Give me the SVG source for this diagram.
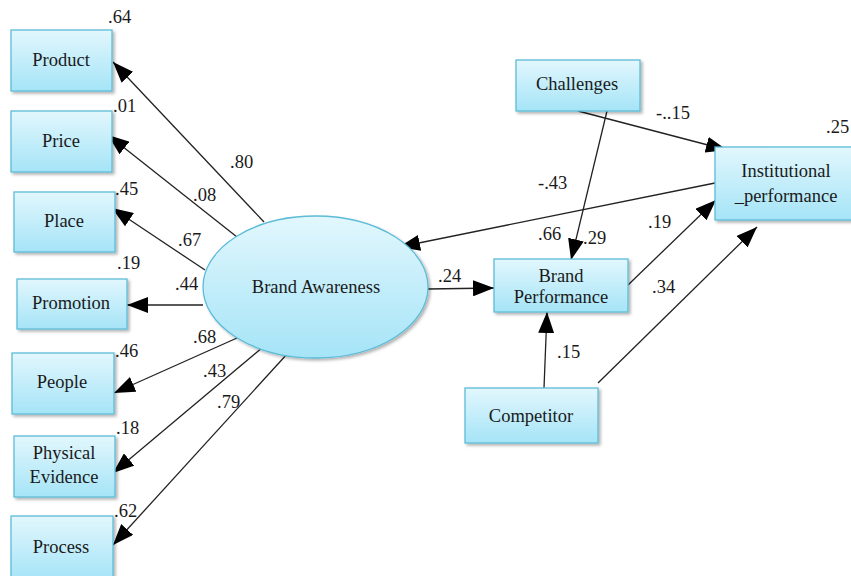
<svg xmlns="http://www.w3.org/2000/svg" width="851" height="576" viewBox="0 0 851 576">
<style>
.box{fill:url(#g);stroke:#5cbcd8;stroke-width:1.3;filter:url(#sh)}
.t{font-family:"Liberation Serif","Times New Roman",Times,"DejaVu Serif",serif;font-size:18.5px;fill:#1a1a1a;text-anchor:middle}
.l{font-family:"Liberation Serif","Times New Roman",Times,"DejaVu Serif",serif;font-size:18.5px;fill:#1a1a1a}
.c{stroke:#222;stroke-width:1.3;fill:none;marker-end:url(#ah)}
</style>
<defs>
<linearGradient id="g" x1="0" y1="0" x2="0" y2="1">
<stop offset="0" stop-color="#e2f7fd"/>
<stop offset="1" stop-color="#a5e4f7"/>
</linearGradient>
<filter id="sh" x="-10%" y="-10%" width="130%" height="130%">
<feDropShadow dx="2" dy="2" stdDeviation="1.5" flood-color="#000" flood-opacity="0.3"/>
</filter>
<marker id="ah" markerUnits="userSpaceOnUse" markerWidth="22" markerHeight="16" viewBox="0 0 22 16" refX="21" refY="8" orient="auto">
<path d="M0,0 L21,8 L0,16 z" fill="#000"/>
</marker>
</defs>
<g id="connectors">
<line class="c" x1="264" y1="222" x2="113" y2="62"/>
<line class="c" x1="237" y1="237" x2="108" y2="135"/>
<line class="c" x1="205" y1="270" x2="112" y2="208"/>
<line class="c" x1="203" y1="305" x2="127" y2="305"/>
<line class="c" x1="237" y1="338" x2="114" y2="393"/>
<line class="c" x1="263" y1="347" x2="113" y2="473"/>
<line class="c" x1="288" y1="353" x2="113" y2="545"/>
<line class="c" x1="428" y1="289" x2="494" y2="288"/>
<line class="c" x1="578" y1="111" x2="727" y2="150"/>
<line class="c" x1="607" y1="111" x2="571" y2="260"/>
<line class="c" x1="715" y1="183" x2="399" y2="247"/>
<line class="c" x1="628" y1="285" x2="716" y2="200"/>
<line class="c" x1="598" y1="383" x2="757" y2="227"/>
<line class="c" x1="544" y1="388" x2="547" y2="312"/>
</g>
<g id="labels">
<text class="l" x="108" y="23">.64</text>
<text class="l" x="113" y="112">.01</text>
<text class="l" x="230" y="168">.80</text>
<text class="l" x="193" y="201">.08</text>
<text class="l" x="115" y="195">.45</text>
<text class="l" x="178" y="246">.67</text>
<text class="l" x="117" y="269">.19</text>
<text class="l" x="175" y="290">.44</text>
<text class="l" x="193" y="343">.68</text>
<text class="l" x="115" y="357">.46</text>
<text class="l" x="203" y="377">.43</text>
<text class="l" x="217" y="408">.79</text>
<text class="l" x="116" y="434">.18</text>
<text class="l" x="114" y="517">.62</text>
<text class="l" x="656" y="119">-..15</text>
<text class="l" x="826" y="133">.25</text>
<text class="l" x="538" y="189">-.43</text>
<text class="l" x="538" y="240">.66</text>
<text class="l" x="583" y="244">.29</text>
<text class="l" x="648" y="228">.19</text>
<text class="l" x="438" y="282">.24</text>
<text class="l" x="652" y="293">.34</text>
<text class="l" x="557" y="358">.15</text>
</g>
<g id="product"><rect class="box" x="11" y="30" width="101" height="61"/><text class="t" x="61" y="66">Product</text></g>
<g id="price"><rect class="box" x="11" y="111" width="101" height="61"/><text class="t" x="61" y="147">Price</text></g>
<g id="place"><rect class="box" x="14" y="192" width="101" height="60"/><text class="t" x="64" y="227">Place</text></g>
<g id="promotion"><rect class="box" x="17" y="279" width="110" height="50"/><text class="t" x="71" y="309">Promotion</text></g>
<g id="people"><rect class="box" x="12" y="353" width="102" height="61"/><text class="t" x="62" y="388">People</text></g>
<g id="physical-evidence"><rect class="box" x="14" y="436" width="101" height="61"/><text class="t" x="64" y="459">Physical</text><text class="t" x="64" y="483">Evidence</text></g>
<g id="process"><rect class="box" x="11" y="516" width="102" height="64"/><text class="t" x="61" y="553">Process</text></g>
<g id="brand-awareness"><ellipse cx="315.5" cy="287" rx="112.5" ry="71" fill="url(#g)" stroke="#5cbcd8" stroke-width="1.3" filter="url(#sh)"/><text class="t" x="316" y="293">Brand Awareness</text></g>
<g id="challenges"><rect class="box" x="516" y="60" width="124" height="51"/><text class="t" x="577" y="90">Challenges</text></g>
<g id="institutional"><rect class="box" x="715" y="147" width="142" height="73"/><text class="t" x="786" y="177">Institutional</text><text class="t" x="786" y="202">_performance</text></g>
<g id="brand-performance"><rect class="box" x="494" y="259" width="134" height="53"/><text class="t" x="561" y="282">Brand</text><text class="t" x="561" y="303">Performance</text></g>
<g id="competitor"><rect class="box" x="465" y="388" width="133" height="55"/><text class="t" x="531" y="422">Competitor</text></g>
</svg>
